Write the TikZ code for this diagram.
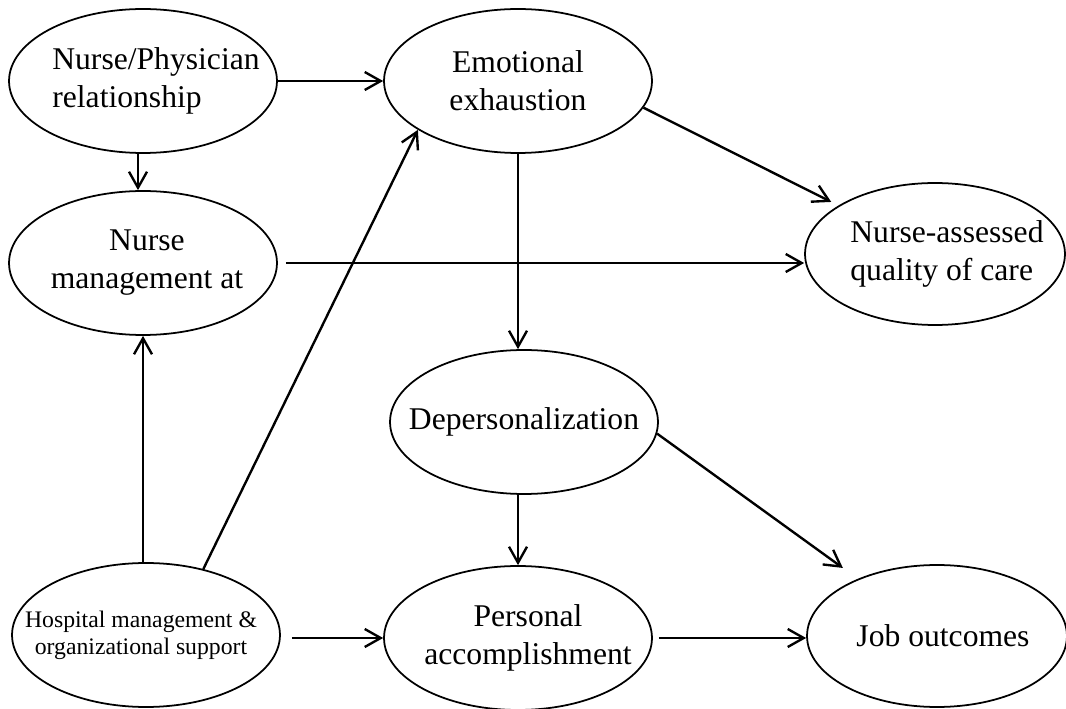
\documentclass[tikz,border=0pt]{standalone}
\usepackage{fontspec}
\setmainfont{Liberation Serif}
\usetikzlibrary{shapes.geometric,arrows.meta,calc}
\tikzset{
    oval/.style={draw, ellipse, line width=1pt, inner sep=0pt,
      minimum width=5.36cm, minimum height=2.88cm},
    smalloval/.style={oval, minimum width=5.2cm, minimum height=2.84cm},
    txt/.style={align=center, inner sep=0pt, font=\fontsize{18}{21.6}\selectfont},
    smalltxt/.style={txt, font=\fontsize{13.5}{15.4}\selectfont},
    link/.style={->, line width=1.35pt},
    >={Straight Barb[length=0.32cm,width=0.36cm]},
  }

\begin{document}
\begin{tikzpicture}[x=0.02cm,y=-0.02cm]
			          %cadre
			          \useasboundingbox (0,0) rectangle (1066,709);
			          %ellipses
				  \node[oval] (np) at (143,81) {};
				  \node[oval] (emo) at (518,81) {};
				  \node[oval] (nm) at (143,263) {};
				  \node[smalloval] (nq) at (935,254) {};
				  \node[oval] (dep) at (524,422) {};
				  \node[oval] (hosp) at (146,635) {};
				  \node[oval] (pa) at (518,638) {};
				  \node[smalloval] (job) at (937,636) {};
			          %textes
				  \node[txt, align=left] (np-t) at ([xshift=0.26cm]np.center) {Nurse/Physician\\relationship};
				  \node[txt] (emo-t) at (emo.center) {Emotional\\exhaustion};
				  \node[txt] (nm-t) at ([xshift=0.08cm]nm.center) {Nurse\\management at};
				  \node[txt, align=left] (nq-t) at ([xshift=0.24cm]nq.center) {Nurse-assessed\\quality of care};
				  \node[txt] (dep-t) at (dep.center) {Depersonalization};
				  \node[smalltxt] (hosp-t) at ([xshift=-0.1cm]hosp.center) {Hospital management \&\\organizational support};
				  \node[txt] (pa-t) at ([xshift=0.2cm]pa.center) {Personal\\accomplishment};
				  \node[txt] (job-t) at ([xshift=0.12cm]job.center) {Job outcomes};
			          %fleches
				  \draw[link] (np.east) -- (emo.west);
				  \draw[link] ([xshift=-0.1cm]np.south) -- ([xshift=-0.1cm]nm.north);
				  \draw[link, shorten <=0.16cm] (nm.east) -- (nm.east -| nq.west);
				  \draw[link, shorten >=0.16cm] (emo.-12) -- (nq);
				  \draw[link] (emo.south) -- (emo.south |- dep.north);
				  \draw[link] (hosp.north -| nm.south) -- (nm.south);
				  \draw[link] (hosp.49) -- (emo.206);
				  \draw[link, shorten <=0.22cm] (pa.west -| hosp.east) -- (pa.west);
				  \draw[link] (dep.south -| pa.north) -- (pa.north);
				  \draw[link, shorten >=0.37cm] (dep.-5) -- (job);
				  \draw[link, shorten <=0.12cm] (pa.east) -- (pa.east -| job.west);
				  \end{tikzpicture}
\end{document}
